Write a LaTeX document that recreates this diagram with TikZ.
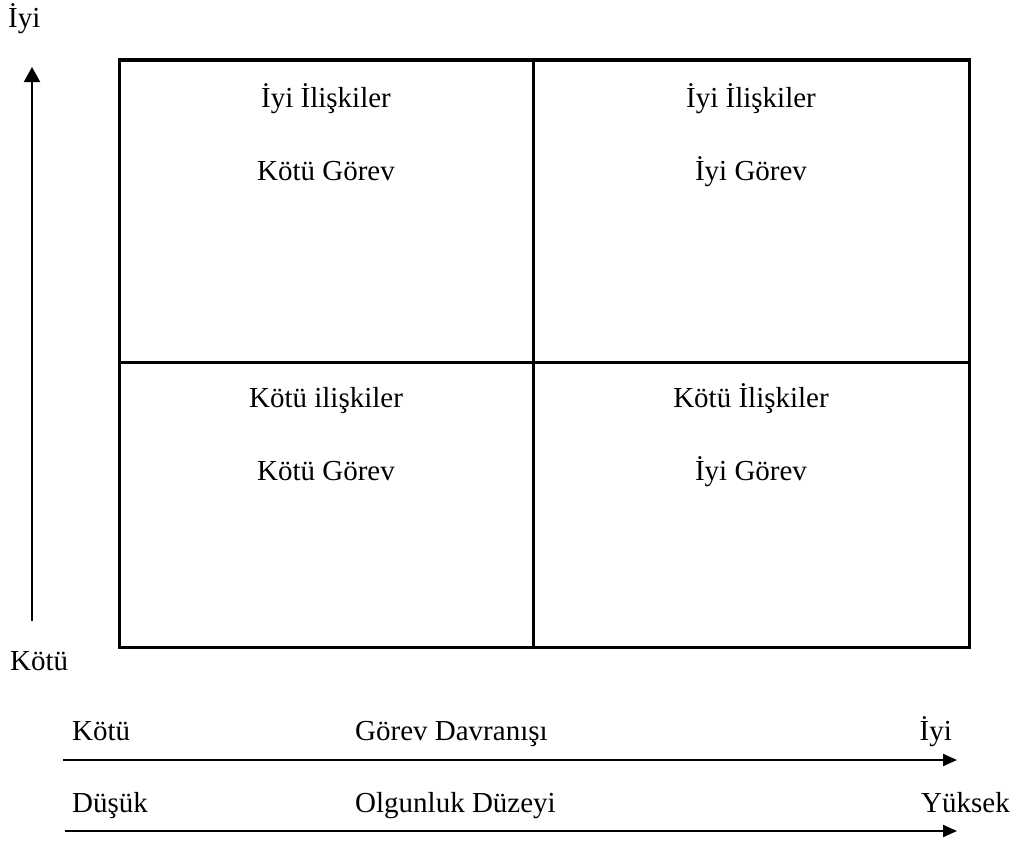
\documentclass[tikz,border=0pt]{standalone}
\usepackage{fontspec}
\setmainfont{Liberation Serif}
\usetikzlibrary{arrows.meta}
\begin{document}
\begin{tikzpicture}[x=1pt,y=-1pt,
  txt/.style={inner sep=0pt, font=\fontsize{29}{35}\selectfont},
  gridline/.style={line width=3pt},
  vaxis/.style={line width=2pt, -{Triangle[length=15pt,width=16pt]}},
  haxis/.style={line width=2pt, -{Triangle[length=14pt,width=12pt]}},
]
\useasboundingbox (0,0) rectangle (1016,843);
% grid
\draw[gridline] (119,60) rectangle (969,647);
\draw[gridline] (533,60) -- (533,647);
\draw[gridline] (119,362) -- (969,362);
% cell texts
\node[txt, anchor=base] (a1) at (326,107) {İyi İlişkiler};
\node[txt, anchor=base] (a2) at (326,180) {Kötü Görev};
\node[txt, anchor=base] (b1) at (751,107) {İyi İlişkiler};
\node[txt, anchor=base] (b2) at (751,180) {İyi Görev};
\node[txt, anchor=base] (c1) at (326,407) {Kötü ilişkiler};
\node[txt, anchor=base] (c2) at (326,480) {Kötü Görev};
\node[txt, anchor=base] (d1) at (751,407) {Kötü İlişkiler};
\node[txt, anchor=base] (d2) at (751,480) {İyi Görev};
% vertical axis
\node[txt, anchor=base west] (ytop) at (8,28) {İyi};
\node[txt, anchor=base west] (ybot) at (10,670) {Kötü};
\coordinate (vs) at (32,621);
\coordinate (ve) at (32,67);
\draw[vaxis] (vs) -- (ve);
% horizontal axes
\node[txt, anchor=base west] (h1l) at (72,740) {Kötü};
\node[txt, anchor=base west] (h1m) at (355,740) {Görev Davranışı};
\node[txt, anchor=base east] (h1r) at (952,740) {İyi};
\coordinate (h1s) at (63,760);
\coordinate (h1e) at (957,760);
\draw[haxis] (h1s) -- (h1e);
\node[txt, anchor=base west] (h2l) at (72,812) {Düşük};
\node[txt, anchor=base west] (h2m) at (355,812) {Olgunluk Düzeyi};
\node[txt, anchor=base east] (h2r) at (1010,812) {Yüksek};
\coordinate (h2s) at (65,831);
\coordinate (h2e) at (957,831);
\draw[haxis] (h2s) -- (h2e);
\end{tikzpicture}
\end{document}
